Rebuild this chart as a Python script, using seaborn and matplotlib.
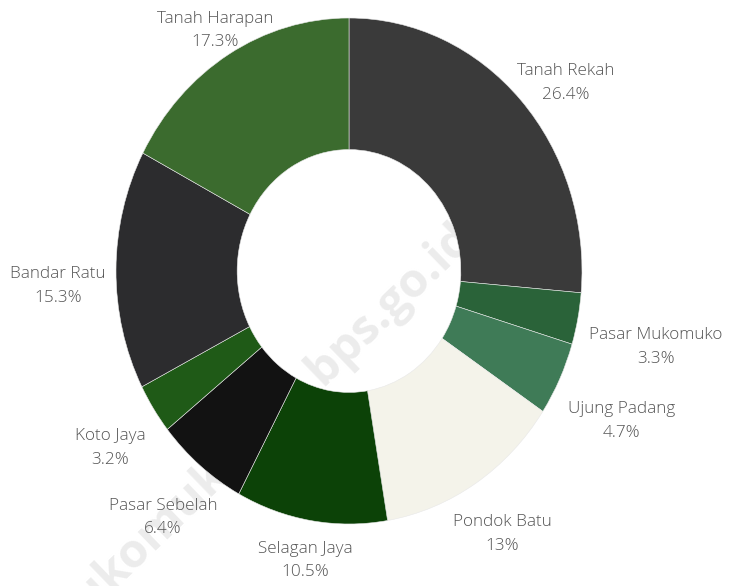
import numpy as np
import matplotlib
matplotlib.use("Agg")
import matplotlib.pyplot as plt
import seaborn as sns

categories = ["Tanah Rekah", "Pasar Mukomuko", "Ujung Padang", "Pondok Batu",
              "Selagan Jaya", "Pasar Sebelah", "Koto Jaya", "Bandar Ratu",
              "Tanah Harapan"]
values = [26.4, 3.3, 4.7, 13.0, 10.5, 6.4, 3.2, 15.3, 17.3]
pct_labels = ["26.4%", "3.3%", "4.7%", "13%", "10.5%", "6.4%", "3.2%", "15.3%", "17.3%"]
colors = ["#3a3a3a", "#2a6339", "#3f7b57", "#f4f3ea", "#0c4207",
          "#121212", "#1f5a17", "#2c2c2e", "#3b6b2e"]
label_radius = [1.19, 1.35, 1.31, 1.23, 1.16, 1.26, 1.24, 1.25, 1.11]
label_angle_shift = [-3.8, -2.0, -1.6, -0.5, 0.0, 0.4, 1.4, 3.0, 0.0]

sns.set_theme(style="white")
plt.rcParams["font.family"] = ["Open Sans", "DejaVu Sans"]

fig = plt.figure(figsize=(7.29, 5.86), dpi=100)
fig.patch.set_facecolor("white")

# watermark on a background axes
bg = fig.add_axes([0, 0, 1, 1], zorder=0)
bg.axis("off")
bg.set_xlim(0, 1)
bg.set_ylim(0, 1)
bg.text(0.352, 0.262, "mukomukokab.bps.go.id", rotation=44, fontsize=34,
        fontweight="bold", color="#ececec", ha="center", va="center",
        transform=bg.transAxes)

cx, cy = 349 / 729, 1 - 271 / 586
rx, ry = 233 / 729, 253 / 586
ax = fig.add_axes([cx - rx, cy - ry, 2 * rx, 2 * ry], zorder=1)
ax.patch.set_alpha(0)

wedges, _ = ax.pie(values, colors=colors, startangle=90, counterclock=False,
                   radius=1.0, wedgeprops=dict(width=0.52, edgecolor="#e8e8e8",
                                               linewidth=0.4))
ax.set_aspect("auto")
ax.set_xlim(-1, 1)
ax.set_ylim(-1, 1)
ax.axis("off")

for w, name, pct, r, da in zip(wedges, categories, pct_labels, label_radius,
                               label_angle_shift):
    ang = np.deg2rad((w.theta1 + w.theta2) / 2 + da)
    x, y = r * np.cos(ang), r * np.sin(ang)
    ax.text(x, y, name + "\n" + pct, ha="center", va="center", fontsize=12.3,
            fontweight="light", color="#555555", linespacing=1.65, clip_on=False)

fig.savefig("out.png", dpi=100, facecolor="white")
